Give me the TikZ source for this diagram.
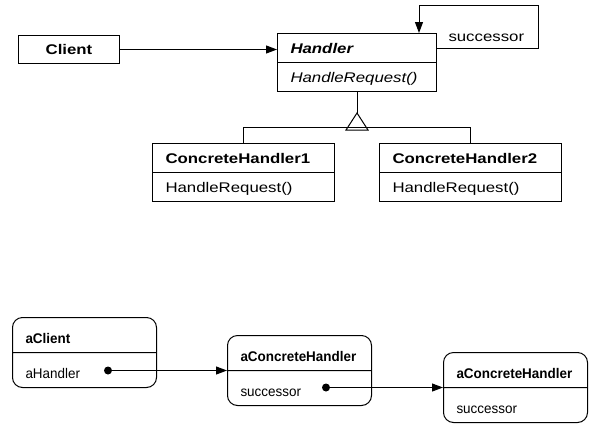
\documentclass[tikz,border=0pt]{standalone}
\usepackage{fontspec}
\setmainfont{Liberation Sans}
\newfontfamily\clsfont{Liberation Sans}[FakeStretch=1.2]
\newfontfamily\objfont{Liberation Sans}[FakeStretch=0.96]
\usetikzlibrary{shapes.multipart,arrows.meta}
\newcommand\clsrow{\rule[-9pt]{0pt}{28pt}}
\newcommand\objrow{\rule[-9pt]{0pt}{34pt}}

\begin{document}
\begin{tikzpicture}[x=1pt,y=-1pt,line width=1pt,
  clsbox/.style={draw, inner sep=0pt, anchor=north west, font=\clsfont\fontsize{14pt}{16pt}\selectfont\bfseries},
  cls/.style={draw, rectangle split, rectangle split parts=2, inner xsep=13pt, inner ysep=0pt,
    text width=#1, align=left, anchor=north west, font=\clsfont\fontsize{14pt}{16pt}\selectfont},
  obj/.style={cls=118pt, rounded corners=10pt, font=\objfont\fontsize{14pt}{16pt}\selectfont},
  arr/.style={-{Triangle[length=11pt,width=8pt]}},
  dot/.style={circle, fill, inner sep=0pt, minimum size=8pt}]
\useasboundingbox (0,0) rectangle (602,437);

% class structure
\node[clsbox, minimum width=101pt, minimum height=28pt] (client) at (18,35) {Client};
\node[cls=133pt] (handler) at (277,33) {\clsrow\textbf{\textit{Handler}}\nodepart{two}\clsrow\textit{HandleRequest()}};
\foreach \n/\x in {1/152,2/379}
  \node[cls=156pt] (ch\n) at (\x,143) {\clsrow\textbf{ConcreteHandler\n}\nodepart{two}\clsrow HandleRequest()};

\draw[arr] (client.east) -- (client.east -| handler.west);
\coordinate (loop) at (538,5);
\draw[arr] ([yshift=-15pt]handler.north east) -| (loop) -| ([xshift=-18pt]handler.north east);
\node[anchor=base west, inner sep=0pt, font=\clsfont\fontsize{14pt}{16pt}\selectfont] (succ) at (448,41) {successor};

% inheritance
\draw (handler.south) -- ++(0,21) coordinate (tip);
\draw (tip) -- ++(-11,17) -- ++(22,0) -- cycle;
\draw (ch1.north) -- ++(0,-16) -| (ch2.north);

% object structure
\node[obj] (aclient) at (12,317) {\objrow\textbf{aClient}\nodepart{two}\objrow aHandler};
\foreach \n/\x/\y in {1/227/335,2/443/352}
  \node[obj] (och\n) at (\x,\y) {\objrow\textbf{aConcreteHandler}\nodepart{two}\objrow successor};
\node[dot] (dot1) at (108,0 |- och1.text split west) {};
\node[dot] (dot2) at (326,0 |- och2.text split west) {};
\draw[arr] (dot1.center) -- (och1.text split west);
\draw[arr] (dot2.center) -- (och2.text split west);
\end{tikzpicture}
\end{document}
